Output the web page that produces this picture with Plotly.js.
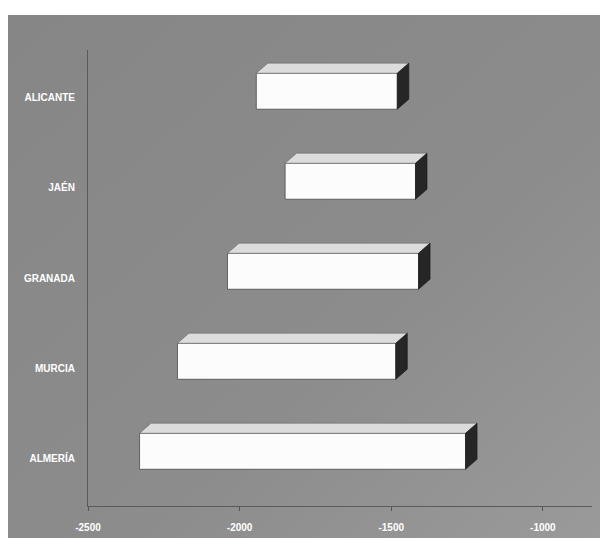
<!DOCTYPE html>
<html>
<head>
<meta charset="utf-8">
<script src="https://cdn.plot.ly/plotly-3.0.1.min.js"></script>
<style>
  html, body { margin: 0; padding: 0; background: #ffffff; }
  #chart { width: 600px; height: 538px; }
</style>
</head>
<body>
<div id="chart"></div>
<script>
// Provinces, bottom to top
const provinces = ['ALMERÍA', 'MURCIA', 'GRANADA', 'JAÉN', 'ALICANTE'];
// Start and end of each floating bar
const barStart = [-2330, -2205, -2040, -1850, -1945];
const barEnd   = [-1255, -1485, -1410, -1420, -1480];
// Axis ticks
const xTicks = [-2500, -2000, -1500, -1000];
const xTickText = ['-2500', '-2000', '-1500', '-1000'];

// Block geometry (in axis units)
const BAR_H = 0.40;     // front face thickness
const LIFT = 0.075;     // front face sits a little above the category line
const DEPTH_X = 38;     // receding depth, horizontal
const DEPTH_Y = 0.112;  // receding depth, vertical

const yIdx = provinces.map((_, i) => i);
const traces = [];

// Front faces
traces.push({
  type: 'bar',
  orientation: 'h',
  y: yIdx.map(i => i + LIFT),
  base: barStart,
  x: barEnd.map((e, i) => e - barStart[i]),
  width: BAR_H,
  marker: { color: '#fcfcfc', line: { color: '#4a4a4a', width: 0.8 } },
  hoverinfo: 'skip',
  showlegend: false
});

// Top and side faces
provinces.forEach((p, i) => {
  const yc = i + LIFT;
  const yt = yc + BAR_H / 2, yb = yc - BAR_H / 2;
  const s = barStart[i], e = barEnd[i];
  traces.push({
    type: 'scatter', mode: 'lines', fill: 'toself',
    x: [s, e, e + DEPTH_X, s + DEPTH_X, s],
    y: [yt, yt, yt + DEPTH_Y, yt + DEPTH_Y, yt],
    fillcolor: '#dcdcdc',
    line: { color: '#6a6a6a', width: 0.6 },
    hoverinfo: 'skip', showlegend: false
  });
  traces.push({
    type: 'scatter', mode: 'lines', fill: 'toself',
    x: [e, e + DEPTH_X, e + DEPTH_X, e, e],
    y: [yb, yb + DEPTH_Y, yt + DEPTH_Y, yt, yb],
    fillcolor: '#262626',
    line: { color: '#1a1a1a', width: 0.6 },
    hoverinfo: 'skip', showlegend: false
  });
});

// Gray backdrop panel
const bgSvg =
  '<svg xmlns="http://www.w3.org/2000/svg" width="592" height="524" preserveAspectRatio="none">' +
  '<defs><linearGradient id="g" x1="0" y1="0" x2="1" y2="1">' +
  '<stop offset="0" stop-color="#868686"/><stop offset="0.6" stop-color="#8c8c8c"/>' +
  '<stop offset="1" stop-color="#9a9a9a"/></linearGradient></defs>' +
  '<rect width="592" height="524" fill="url(#g)"/></svg>';
const bgUri = 'data:image/svg+xml;charset=utf-8,' + encodeURIComponent(bgSvg);

const labelFont = {
  family: '"Liberation Sans Narrow", "Liberation Sans", Arial, sans-serif',
  size: 10, color: '#ffffff', weight: 'bold'
};

const layout = {
  width: 600, height: 538,
  margin: { l: 88, r: 8, t: 50, b: 32, pad: 0 },
  paper_bgcolor: '#ffffff',
  plot_bgcolor: 'rgba(0,0,0,0)',
  showlegend: false,
  images: [{
    source: bgUri, xref: 'paper', yref: 'paper',
    x: -80 / 504, y: 491 / 456, sizex: 592 / 504, sizey: 524 / 456,
    xanchor: 'left', yanchor: 'top', sizing: 'stretch', layer: 'below'
  }],
  xaxis: {
    range: [-2500, -838],
    tickvals: xTicks, ticktext: xTickText,
    ticks: 'outside', ticklen: 4, tickcolor: '#555555', tickwidth: 1,
    ticklabelstandoff: 8,
    showgrid: false, zeroline: false,
    showline: true, linecolor: '#5a5a5a', linewidth: 1,
    tickfont: labelFont, fixedrange: true
  },
  yaxis: {
    range: [-0.533, 4.533],
    tickvals: yIdx, ticktext: provinces,
    ticks: '', ticklabelstandoff: 10,
    showgrid: false, zeroline: false,
    showline: true, linecolor: '#5a5a5a', linewidth: 1,
    tickfont: labelFont, fixedrange: true
  }
};

Plotly.newPlot('chart', traces, layout, { displayModeBar: false, staticPlot: true });
</script>
</body>
</html>
